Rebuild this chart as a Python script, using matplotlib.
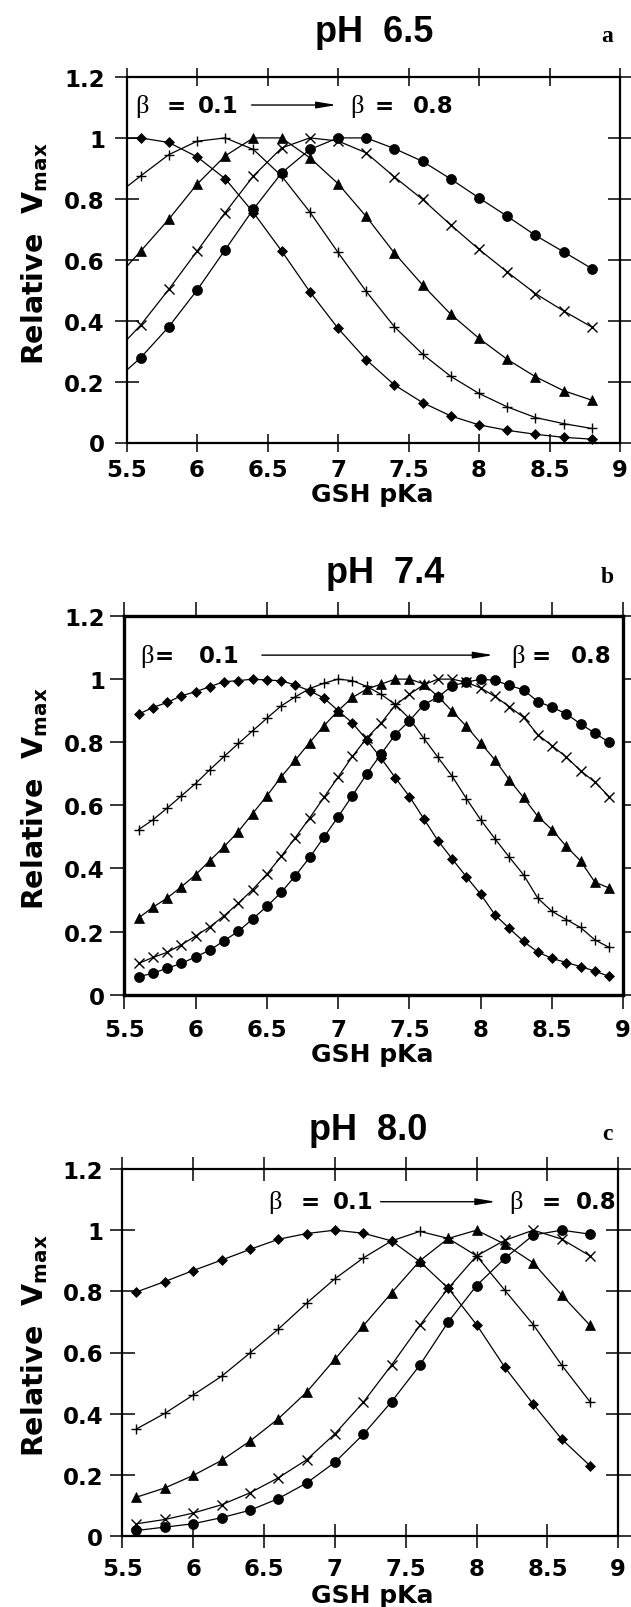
import matplotlib
matplotlib.use("Agg")
from matplotlib import pyplot as plt

plt.rcParams['font.family'] = ['DejaVu Sans']
plt.rcParams['font.weight'] = 'bold'

W, H = 631, 1608

# ---- panel a: pH 6.5 ----
x_a = [5.6, 5.8, 6.0, 6.2, 6.4, 6.6, 6.8, 7.0, 7.2, 7.4, 7.6, 7.8, 8.0, 8.2, 8.4, 8.6, 8.8]
diamond_a = [1.00, 0.985, 0.938, 0.866, 0.755, 0.629, 0.495, 0.375, 0.272, 0.189, 0.131, 0.087, 0.058, 0.040, 0.027, 0.017, 0.011]
plus_a = [0.875, 0.945, 0.989, 1.00, 0.962, 0.875, 0.757, 0.624, 0.496, 0.380, 0.290, 0.217, 0.161, 0.117, 0.082, 0.062, 0.046]
tri_a = [0.628, 0.733, 0.848, 0.941, 1.00, 1.00, 0.935, 0.850, 0.742, 0.622, 0.517, 0.421, 0.342, 0.273, 0.216, 0.170, 0.139]
cross_a = [0.385, 0.503, 0.628, 0.755, 0.875, 0.967, 1.00, 0.990, 0.951, 0.872, 0.798, 0.714, 0.634, 0.560, 0.489, 0.432, 0.379]
circ_a = [0.278, 0.380, 0.500, 0.633, 0.766, 0.885, 0.962, 1.00, 1.00, 0.965, 0.923, 0.865, 0.803, 0.743, 0.680, 0.626, 0.571]
# the fitted curves in panel a start at the left edge (pKa 5.5)
start_a = [0.998, 0.839, 0.577, 0.336, 0.237]

# ---- panel b: pH 7.4 ----
x_b = [5.6, 5.7, 5.8, 5.9, 6.0, 6.1, 6.2, 6.3, 6.4, 6.5, 6.6, 6.7, 6.8, 6.9, 7.0, 7.1, 7.2,
       7.3, 7.4, 7.5, 7.6, 7.7, 7.8, 7.9, 8.0, 8.1, 8.2, 8.3, 8.4, 8.5, 8.6, 8.7, 8.8, 8.9]
diamond_b = [0.889, 0.910, 0.926, 0.947, 0.960, 0.976, 0.992, 0.995, 1.00, 0.997, 0.995, 0.981, 0.963, 0.940, 0.900, 0.861, 0.808,
             0.750, 0.688, 0.628, 0.558, 0.488, 0.430, 0.373, 0.318, 0.253, 0.210, 0.169, 0.135, 0.115, 0.102, 0.089, 0.075, 0.058]
plus_b = [0.523, 0.554, 0.591, 0.630, 0.669, 0.713, 0.755, 0.796, 0.836, 0.876, 0.915, 0.944, 0.970, 0.987, 1.00, 0.995, 0.977,
          0.952, 0.920, 0.875, 0.813, 0.752, 0.692, 0.621, 0.554, 0.494, 0.436, 0.380, 0.306, 0.264, 0.238, 0.213, 0.174, 0.150]
tri_b = [0.243, 0.277, 0.306, 0.342, 0.380, 0.425, 0.469, 0.517, 0.574, 0.630, 0.690, 0.744, 0.799, 0.852, 0.900, 0.942, 0.968,
         0.984, 1.00, 1.00, 0.985, 0.945, 0.898, 0.850, 0.797, 0.744, 0.681, 0.625, 0.565, 0.523, 0.470, 0.424, 0.357, 0.338]
cross_b = [0.099, 0.118, 0.134, 0.158, 0.186, 0.215, 0.250, 0.290, 0.333, 0.382, 0.438, 0.498, 0.560, 0.625, 0.690, 0.755, 0.813,
           0.860, 0.917, 0.952, 0.982, 1.00, 1.00, 0.990, 0.972, 0.945, 0.913, 0.879, 0.824, 0.789, 0.753, 0.710, 0.674, 0.628]
circ_b = [0.057, 0.068, 0.084, 0.099, 0.120, 0.141, 0.171, 0.201, 0.240, 0.280, 0.324, 0.377, 0.435, 0.499, 0.564, 0.631, 0.699,
          0.762, 0.824, 0.868, 0.919, 0.943, 0.979, 0.990, 1.00, 0.996, 0.980, 0.966, 0.929, 0.911, 0.890, 0.858, 0.829, 0.800]

# ---- panel c: pH 8.0 ----
x_c = [5.6, 5.8, 6.0, 6.2, 6.4, 6.6, 6.8, 7.0, 7.2, 7.4, 7.6, 7.8, 8.0, 8.2, 8.4, 8.6, 8.8]
diamond_c = [0.798, 0.832, 0.868, 0.902, 0.937, 0.970, 0.989, 1.00, 0.990, 0.965, 0.897, 0.810, 0.691, 0.551, 0.431, 0.317, 0.230]
plus_c = [0.350, 0.401, 0.461, 0.522, 0.598, 0.676, 0.761, 0.841, 0.909, 0.965, 0.996, 0.973, 0.916, 0.803, 0.691, 0.559, 0.439]
tri_c = [0.127, 0.157, 0.198, 0.247, 0.310, 0.383, 0.470, 0.578, 0.687, 0.795, 0.900, 0.973, 1.00, 0.954, 0.893, 0.788, 0.689]
cross_c = [0.040, 0.054, 0.075, 0.102, 0.141, 0.190, 0.249, 0.334, 0.437, 0.559, 0.689, 0.810, 0.916, 0.967, 1.00, 0.971, 0.916]
circ_c = [0.018, 0.029, 0.040, 0.060, 0.084, 0.122, 0.173, 0.241, 0.332, 0.439, 0.559, 0.700, 0.819, 0.908, 0.984, 1.00, 0.987]

xticks = [5.5, 6, 6.5, 7, 7.5, 8, 8.5, 9]
xtick_labels = ['5.5', '6', '6.5', '7', '7.5', '8', '8.5', '9']
yticks = [0, 0.2, 0.4, 0.6, 0.8, 1.0, 1.2]
ytick_labels = ['0', '0.2', '0.4', '0.6', '0.8', '1', '1.2']

# marker, size, edge width
markers = [('D', 4.8, 0.5), ('+', 7.5, 1.0), ('^', 6.8, 0.5), ('x', 6.5, 1.0), ('o', 7.2, 0.5)]


def px_box(left, right, top, bottom):
    return [left / W, 1 - bottom / H, (right - left) / W, (bottom - top) / H]


def panel(box, x, series, starts=None, tickdir='inout', xlen=13, ylen=17,
          xpad=4.7, ypad=7, spine_w=1.6):
    ax = fig.add_axes(px_box(*box))
    for i, y in enumerate(series):
        lx, ly = list(x), list(y)
        if starts is not None:
            lx = [5.5] + lx
            ly = [starts[i]] + ly
        ax.plot(lx, ly, '-', color='k', lw=0.9, zorder=2)
        m, ms, mew = markers[i]
        ax.plot(x, y, ls='none', marker=m, ms=ms, mew=mew, mfc='k', mec='k',
                zorder=3, clip_on=False)
    ax.set_xlim(5.5, 9)
    ax.set_ylim(0, 1.2)
    ax.set_xticks(xticks)
    ax.set_xticklabels(xtick_labels)
    ax.set_yticks(yticks)
    ax.set_yticklabels(ytick_labels)
    ax.tick_params(axis='x', direction=tickdir, length=xlen, width=1.1,
                   top=True, bottom=True, pad=xpad, labelsize=16.5)
    ax.tick_params(axis='y', direction=tickdir, length=ylen, width=1.1,
                   left=True, right=True, pad=ypad, labelsize=16.5)
    for lab in ax.get_xticklabels() + ax.get_yticklabels():
        lab.set_fontweight('bold')
    for s in ax.spines.values():
        s.set_linewidth(spine_w)
    return ax


def beta_note(ax, y, b1, e1, n1, a0, a1, b2, e2, n2):
    for bx, ex, nx, num in [(b1, e1, n1, '0.1'), (b2, e2, n2, '0.8')]:
        ax.text(bx, y, 'β', family='Liberation Serif', fontweight='normal',
                fontsize=19, ha='left', va='center')
        ax.text(ex, y, '=', fontsize=16.5, ha='left', va='center', fontweight='bold')
        ax.text(nx, y, num, fontsize=16.5, ha='left', va='center', fontweight='bold')
    ax.annotate('', xy=(a1, y), xytext=(a0, y),
                arrowprops=dict(arrowstyle='-|>,head_width=0.2,head_length=1.2',
                                color='k', lw=1.0, shrinkA=0, shrinkB=0))


def ylab(ax, left, width, yc=0.52):
    ax.set_ylabel(r'Relative  $\mathbf{V}_{\mathbf{max}}$', fontsize=20.5,
                  fontweight='bold')
    ax.yaxis.set_label_coords((50 - left) / width, yc)


def heading(xc, base, title, letter):
    fig.text(xc / W, 1 - base / H, title, family='Liberation Sans',
             fontweight='bold', fontsize=26, ha='center', va='baseline')
    fig.text(607 / W, 1 - base / H, letter, family='Liberation Serif',
             fontweight='bold', fontsize=17, ha='center', va='baseline')


def xlab(yc):
    fig.text(372 / W, 1 - yc / H, 'GSH pKa', fontsize=18, fontweight='bold',
             ha='center', va='center')


fig = plt.figure(figsize=(W / 100, H / 100), dpi=100)

ax_a = panel((126.5, 620, 78, 443.5), x_a,
             [diamond_a, plus_a, tri_a, cross_a, circ_a], starts=start_a,
             tickdir='inout', xlen=13, ylen=17, xpad=4.7, ypad=7, spine_w=1.6)
beta_note(ax_a, 1.108, 5.56, 5.784, 6.008, 6.387, 6.99, 7.085, 7.262, 7.534)
ylab(ax_a, 126.5, 493.5)
heading(374, 42, 'pH  6.5', 'a')
xlab(495)

ax_b = panel((124.3, 623.3, 617, 995.7), x_b,
             [diamond_b, plus_b, tri_b, cross_b, circ_b],
             tickdir='out', xlen=10, ylen=10, xpad=7, ypad=3.9, spine_w=2.4)
beta_note(ax_b, 1.076, 5.61, 5.715, 6.02, 6.465, 8.088, 8.216, 8.356, 8.635)
ylab(ax_b, 124.3, 499)
heading(385, 583, 'pH  7.4', 'b')
xlab(1055)

ax_c = panel((122.3, 618.3, 1170, 1537), x_c,
             [diamond_c, plus_c, tri_c, cross_c, circ_c],
             tickdir='inout', xlen=17, ylen=18, xpad=6.6, ypad=4.7, spine_w=1.6)
beta_note(ax_c, 1.093, 6.533, 6.76, 6.983, 7.323, 8.136, 8.232, 8.46, 8.699)
ylab(ax_c, 122.3, 496)
heading(368, 1140, 'pH  8.0', 'c')
xlab(1596)

fig.savefig('out.png', dpi=100)
